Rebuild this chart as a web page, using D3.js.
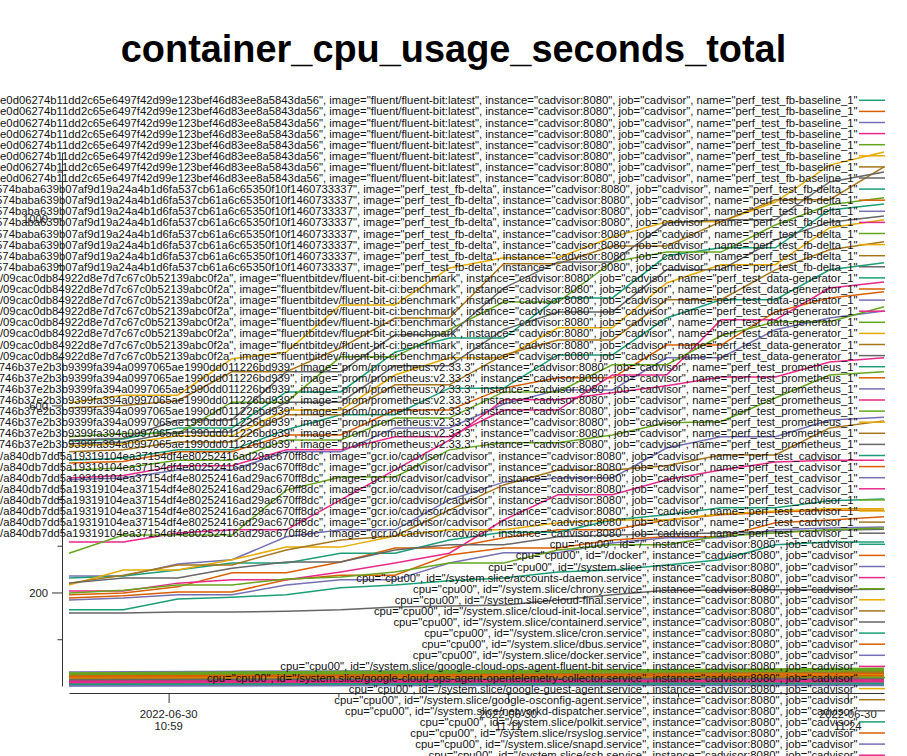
<!DOCTYPE html>
<html><head><meta charset="utf-8">
<script src="https://cdn.jsdelivr.net/npm/d3@7"></script>
<style>
html,body{margin:0;padding:0;background:#fff;}
svg{display:block;font-family:"Liberation Sans",Arial,sans-serif;}
</style></head><body>
<svg id="chart" width="907" height="756"></svg>
<script>
const titleText = "container_cpu_usage_seconds_total";
const palette = ["#1b9e77","#d95f02","#7570b3","#e7298a","#66a61e","#e6ab02","#a6761d","#666666"];

const containerHashes = [
  "1e0d06274b11dd2c65e6497f42d99e123bef46d83ee8a5843da56",
  "574baba639b07af9d19a24a4b1d6fa537cb61a6c65350f10f1460733337",
  "09cac0db84922d8e7d7c67c0b52139abc0f2a",
  "746b37e2b3b9399fa394a0997065ae1990dd011226bd939",
  "a840db7dd5a19319104ea37154df4e80252416ad29ac670ff8dc"
];
const containerImages = ["fluent/fluent-bit:latest","perf_test_fb-delta","fluentbitdev/fluent-bit-ci:benchmark","prom/prometheus:v2.33.3","gcr.io/cadvisor/cadvisor"];
const containerNames = ["perf_test_fb-baseline_1","perf_test_fb-delta_1","perf_test_data-generator_1","perf_test_prometheus_1","perf_test_cadvisor_1"];
const cpuIds = ["cpu00","cpu01","cpu02","cpu03","cpu04","cpu05","cpu06","cpu07"];
const systemIds = ["/","/docker","/system.slice","/system.slice/accounts-daemon.service","/system.slice/chrony.service",
  "/system.slice/cloud-final.service","/system.slice/cloud-init-local.service","/system.slice/containerd.service",
  "/system.slice/cron.service","/system.slice/dbus.service","/system.slice/docker.service",
  "/system.slice/google-cloud-ops-agent-fluent-bit.service","/system.slice/google-cloud-ops-agent-opentelemetry-collector.service",
  "/system.slice/google-guest-agent.service","/system.slice/google-osconfig-agent.service","/system.slice/networkd-dispatcher.service",
  "/system.slice/polkit.service","/system.slice/rsyslog.service","/system.slice/snapd.service","/system.slice/ssh.service"];

const sampleTimes = ["2022-06-30T10:55:35","2022-06-30T10:57:35","2022-06-30T10:59:35","2022-06-30T11:01:35",
  "2022-06-30T11:03:35","2022-06-30T11:05:35","2022-06-30T11:07:35","2022-06-30T11:09:35",
  "2022-06-30T11:11:35","2022-06-30T11:13:35","2022-06-30T11:15:35","2022-06-30T11:17:35",
  "2022-06-30T11:19:35","2022-06-30T11:21:35","2022-06-30T11:23:35","2022-06-30T11:25:35"];
const bandTimes = ["2022-06-30T10:55:35","2022-06-30T11:05:35","2022-06-30T11:15:35","2022-06-30T11:25:35"];

const activeSeries = [5,6,7,4,0,15,13,14,8,3,1,12,2,11,20,10,22,19,16,9,21,23,28,24,31,17,18];
const activeValues = [
  [605,622,622,700,714,815,815,894,916,916,960,993,993,1035,1114,1142],
  [595,600,610,672,672,723,787,787,903,903,941,941,993,1040,1040,1110],
  [526,530,569,569,672,672,751,751,851,907,907,990,997,997,1078,1099],
  [533,540,540,607,607,704,704,762,821,821,907,928,928,986,1029,1044],
  [524,528,552,552,629,629,714,744,744,830,830,920,937,937,1018,1031],
  [518,522,543,543,607,607,685,685,762,800,800,890,890,954,992,1005],
  [513,518,535,535,590,590,665,702,702,766,766,862,901,901,980,997],
  [501,505,522,522,580,580,644,644,708,740,740,826,826,890,933,950],
  [483,487,505,505,548,580,580,637,637,708,708,787,826,826,890,905],
  [445,450,471,471,505,505,533,533,590,590,665,665,783,783,851,864],
  [477,480,501,501,537,537,590,590,637,659,659,729,729,800,830,843],
  [462,466,483,483,526,526,573,573,629,629,687,687,749,779,779,811],
  [441,445,462,462,501,501,552,552,603,633,633,702,702,762,787,802],
  [308,308,327,334,334,398,462,526,612,612,627,642,661,661,693,702],
  [284,323,323,323,419,447,447,505,520,520,537,563,565,616,665,672],
  [235,235,261,270,319,334,334,398,436,445,445,509,533,533,569,575],
  [220,237,259,259,291,312,321,376,430,462,462,471,494,494,552,567],
  [203,203,220,227,227,244,263,284,355,409,409,441,462,479,483,483],
  [231,235,248,263,263,284,284,312,329,329,355,366,381,381,396,400],
  [195,199,212,242,242,265,295,295,317,334,334,355,366,372,376,376],
  [216,248,248,270,297,297,321,334,334,349,355,355,368,374,379,379],
  [220,231,231,252,265,265,291,302,302,319,323,325,327,330,333,335],
  [199,205,216,216,229,233,244,263,263,291,302,302,321,327,334,338],
  [163,163,186,190,195,210,216,225,231,244,248,259,270,302,308,308],
  [156,156,158,158,160,163,169,171,173,184,195,205,205,206,206,207],
  [188,193,201,201,227,237,237,280,295,295,312,319,319,349,355,362],
  [184,188,195,195,216,227,227,263,285,285,306,317,317,334,338,340]
];

const bandSeries = [25,26,27,29,30,32,33,34,35,36,37,38,39,40,41,42,43,44,45,46,47,48,49,50,51,52,53,54,55,56,57,58,59];
const bandValues = [
  [22,24,26,28],[30,32,34,36],[12,13,15,16],[20,22,25,27],[24,26,28,31],
  [10,11,12,13],[18,19,21,22],[4,5,5,6],[8,9,10,11],[28,31,34,38],[16,17,19,20],[26,28,31,34],[14,15,16,17],
  [6,7,8,9],[20,21,23,25],[2,2,3,3],[9,10,11,12],[27,30,33,36],[17,18,20,21],[23,25,27,29],[11,12,13,14],
  [5,5,6,6],[21,23,24,26],[1,1,2,2],[7,8,9,9],[25,27,30,33],[18,20,22,24],[15,16,18,19],[13,14,15,16],
  [3,4,4,5],[19,20,22,23],[0,1,1,1],[10,11,12,13]
];

const yTop = 1142;
const yMajorTicks = [200,600,1000];
const yMinorTicks = [100,300,400,500,700,800,900,1100];
const xMajorTicks = ["2022-06-30T10:59:15","2022-06-30T11:11:45","2022-06-30T11:24:15"];
const xMinorTicks = ["2022-06-30T11:05:30","2022-06-30T11:18:00"];

// ---------- build ----------
const parse = d3.timeParse("%Y-%m-%dT%H:%M:%S");
const labels = [];
containerHashes.forEach((h,ci)=>{
  cpuIds.forEach(c=>{
    labels.push(`cpu="${c}", id="/docker/${h}", image="${containerImages[ci]}", instance="cadvisor:8080", job="cadvisor", name="${containerNames[ci]}"`);
  });
});
systemIds.forEach(id=>labels.push(`cpu="cpu00", id="${id}", instance="cadvisor:8080", job="cadvisor"`));

const series = labels.map((l,i)=>({label:l,color:palette[i%8],pts:[]}));
activeSeries.forEach((si,k)=>{ series[si].pts = sampleTimes.map((t,j)=>({t:parse(t),v:activeValues[k][j]})); });
bandSeries.forEach((si,k)=>{ series[si].pts = bandTimes.map((t,j)=>({t:parse(t),v:bandValues[k][j]})); });

const svg = d3.select("#chart");
const x = d3.scaleTime().domain([parse(sampleTimes[0]),parse(sampleTimes[sampleTimes.length-1])]).range([69,884]);
const y = d3.scaleLinear().domain([0,yTop]).range([686,152]);

svg.append("text").attr("x",453.5).attr("y",62).attr("text-anchor","middle")
  .attr("font-size","37.9px").attr("font-weight","bold").attr("fill","#000").text(titleText);

const line = d3.line().x(d=>x(d.t)).y(d=>y(d.v));
svg.append("g").selectAll("path").data(series).join("path")
  .attr("d",d=>line(d.pts)).attr("fill","none").attr("stroke",d=>d.color).attr("stroke-width",1.5);

// axes
const axisColor = "#333";
const gy = svg.append("g").attr("transform","translate(62,0)")
  .call(d3.axisLeft(y).tickValues(yMajorTicks).tickSize(10).tickPadding(4).tickSizeOuter(0).tickFormat(d3.format("d")));
const gy2 = svg.append("g").attr("transform","translate(62,0)")
  .call(d3.axisLeft(y).tickValues(yMinorTicks).tickSize(4.5).tickFormat(""));
gy2.select(".domain").remove();
const gx = svg.append("g").attr("transform","translate(0,693)")
  .call(d3.axisBottom(x).tickValues(xMajorTicks.map(parse)).tickSize(10).tickSizeOuter(0).tickFormat(""));
const gx2 = svg.append("g").attr("transform","translate(0,693)")
  .call(d3.axisBottom(x).tickValues(xMinorTicks.map(parse)).tickSize(4.5).tickFormat(""));
gx2.select(".domain").remove();
[gy,gy2,gx,gx2].forEach(g=>{
  g.selectAll("path,line").attr("stroke",axisColor).attr("stroke-width",1);
  g.selectAll("text").attr("font-family","Liberation Sans, Arial, sans-serif").attr("font-size","11.3px").attr("fill","#222");
});
const fmtD = d3.timeFormat("%Y-%m-%d"), fmtT = d3.timeFormat("%H:%M");
xMajorTicks.map(parse).forEach(t=>{
  const tx = svg.append("text").attr("x",x(t)).attr("text-anchor","middle").attr("font-size","11.3px").attr("fill","#222");
  tx.append("tspan").attr("x",x(t)).attr("y",718).text(fmtD(t));
  tx.append("tspan").attr("x",x(t)).attr("y",730).text(fmtT(t));
});

// legend (drawn over the lines, overflowing the figure)
const lg = svg.append("g");
series.forEach((s,i)=>{
  const cy = 100.3 + i*11.1;
  lg.append("text").attr("x",857.5).attr("y",cy+4).attr("text-anchor","end")
    .attr("font-size","11.3px").attr("fill","#111").text(s.label);
  lg.append("line").attr("x1",859).attr("x2",885).attr("y1",cy).attr("y2",cy)
    .attr("stroke",s.color).attr("stroke-width",1.5);
});
</script>
</body></html>
